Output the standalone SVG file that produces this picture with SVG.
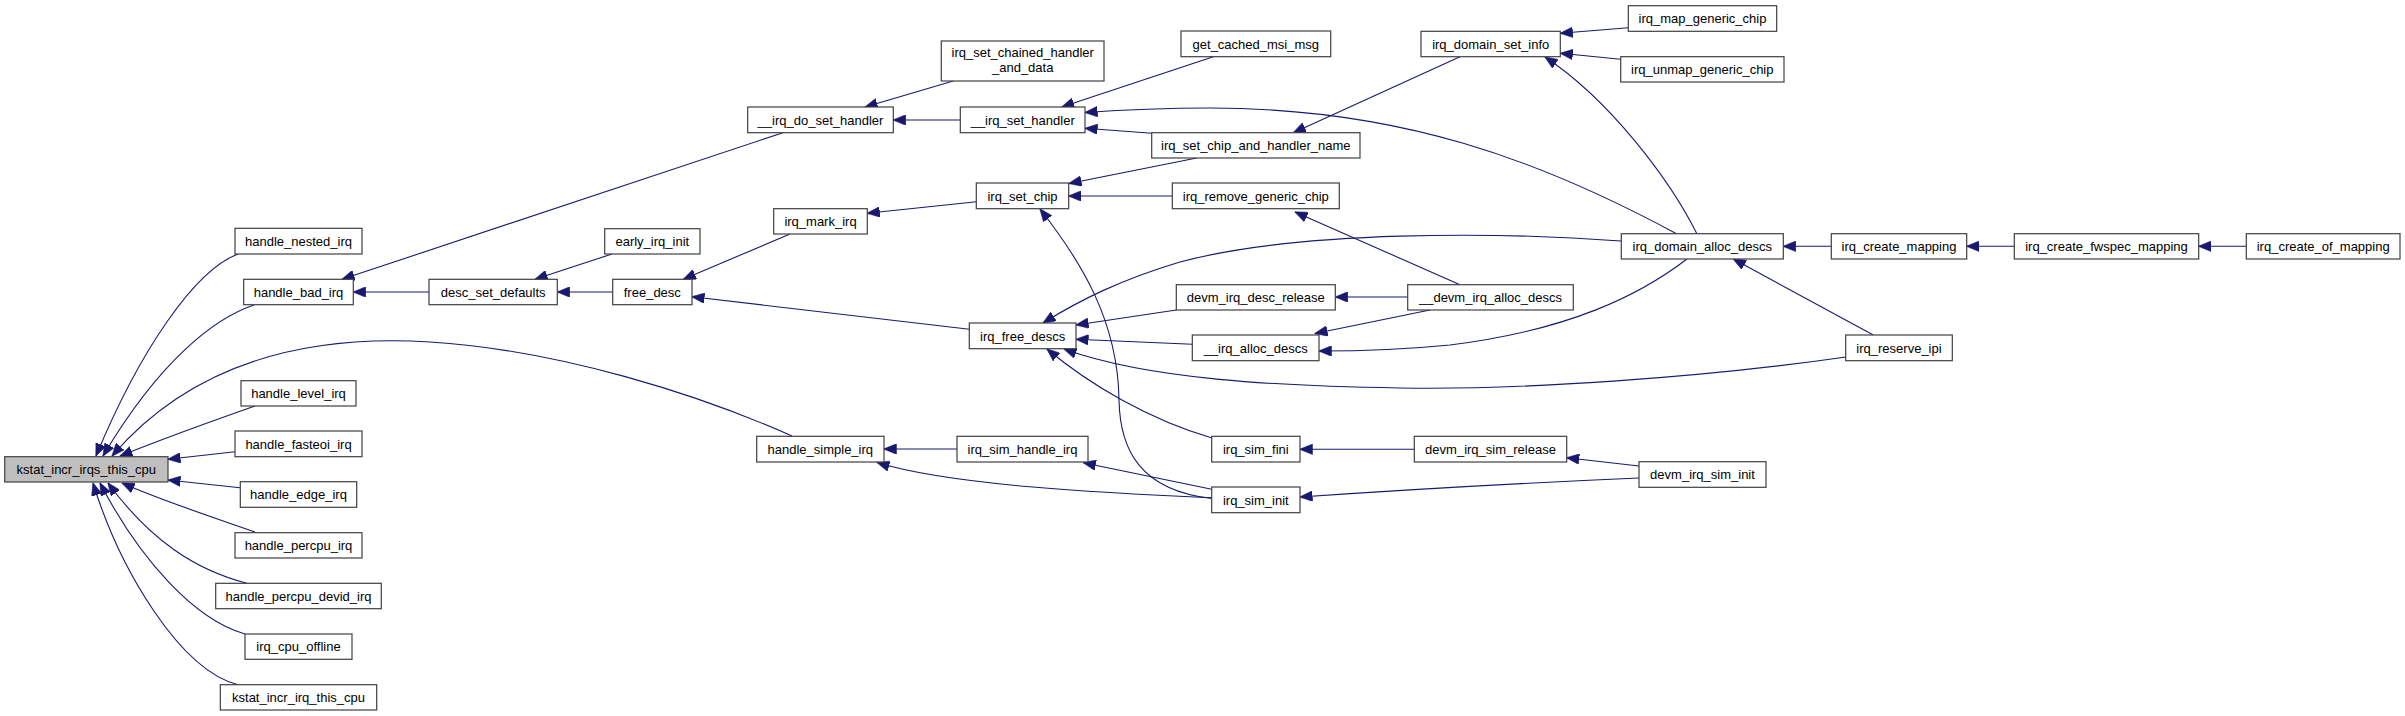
<svg xmlns="http://www.w3.org/2000/svg" width="2405" height="716" viewBox="0 0 2405 716">
<defs>
<style>
.node rect{fill:#ffffff;stroke:#404040;stroke-width:1.2}
.node.root rect{fill:#bfbfbf}
.node text{font-family:"Liberation Sans",Arial,Helvetica,sans-serif;font-size:13px;text-anchor:middle;fill:#000}
.edge path{fill:none;stroke:#191970;stroke-width:1.1;marker-end:url(#ah)}
</style>
<marker id="ah" markerUnits="userSpaceOnUse" viewBox="0 0 13 10.6" markerWidth="13" markerHeight="10.6" refX="12.5" refY="5.3" orient="auto">
<path d="M0,0 L13,5.3 L0,10.6 Z" fill="#191970" stroke="#191970" stroke-width="0.5"/>
</marker>
</defs>
<rect x="0" y="0" width="2405" height="716" fill="#ffffff"/>
<g id="edges" class="edge">
<path d="M238,254 C195,270 140,350 96,456"/>
<path d="M254,305 C215,318 160,360 103,456"/>
<path d="M792,436 C700,395 560,350 430,342 C300,334 190,365 112,456"/>
<path d="M255,406 C215,420 160,440 120,456"/>
<path d="M235,451.7 L168,459.3"/>
<path d="M240,487.7 L168,480"/>
<path d="M255,532 C215,518 160,500 122,483"/>
<path d="M247,583.3 C195,570 150,540 108,483"/>
<path d="M245,634 C195,620 140,560 100,483"/>
<path d="M238,684.7 C180,670 120,570 93,483"/>
<path d="M783,132.7 L342,279.3"/>
<path d="M429,292 L353.3,292"/>
<path d="M612,254 L535,279.3"/>
<path d="M612.7,292 L557.3,292"/>
<path d="M790,234 L683.3,279.3"/>
<path d="M969.3,329.3 L692,296.7"/>
<path d="M953.3,81 L865,107"/>
<path d="M960.3,120 L893.3,120"/>
<path d="M976.3,201.7 L867.3,213.3"/>
<path d="M1213.3,56.7 L1061.7,107"/>
<path d="M1677,234 C1540,160 1400,108 1210,108 C1160,108 1120,110 1085,112.5"/>
<path d="M1151.7,133.3 L1085,128.3"/>
<path d="M1196.7,158 L1069,183.5"/>
<path d="M1172.3,196 L1068.7,196"/>
<path d="M1211.7,498.5 C1140,490 1120,450 1119,400 C1118,320 1080,260 1040,209"/>
<path d="M1460,56.7 L1293.3,132.7"/>
<path d="M1628.3,27.7 L1560.3,33.3"/>
<path d="M1620.7,59.3 L1560.3,53.3"/>
<path d="M1697,234 C1670,180 1610,100 1545,57"/>
<path d="M1460,284.7 L1295,212"/>
<path d="M1621,241 C1500,232 1300,230 1180,262 C1120,280 1080,300 1043,323"/>
<path d="M1176.3,310 L1076,325"/>
<path d="M1192.3,344.3 L1076,339.3"/>
<path d="M1846,357 C1700,378 1520,390 1400,388 C1280,386 1150,380 1064,349"/>
<path d="M1212,438 C1150,420 1090,385 1047,349"/>
<path d="M1407.7,297 L1335.3,297"/>
<path d="M1430,310 L1315,333.5"/>
<path d="M1687,259 C1640,295 1570,330 1450,345 C1400,350 1360,351 1319,351"/>
<path d="M1831.3,246.3 L1783.3,246.3"/>
<path d="M1873.3,335 L1733.3,259"/>
<path d="M2014.3,246.3 L1966.7,246.3"/>
<path d="M2246.3,246.3 L2198.7,246.3"/>
<path d="M1414.3,449.3 L1300,449.3"/>
<path d="M1639,466 L1566.7,457.7"/>
<path d="M1639,478 C1500,484 1400,490 1300,497"/>
<path d="M957,449 L884,449"/>
<path d="M1212,497.7 C1100,493 950,485 877,462.5"/>
<path d="M1211.7,489.3 L1083.3,462.7"/>
</g>
<g id="kstat_incr_irqs_this_cpu" class="node root"><rect x="4.7" y="456.7" width="163.3" height="25.3"/><text x="86.3" y="474">kstat_incr_irqs_this_cpu</text></g>
<g id="handle_nested_irq" class="node"><rect x="235" y="228.3" width="127" height="25.7"/><text x="298.5" y="245.8">handle_nested_irq</text></g>
<g id="handle_bad_irq" class="node"><rect x="243.7" y="279.3" width="109.6" height="25.4"/><text x="298.5" y="296.6">handle_bad_irq</text></g>
<g id="handle_simple_irq" class="node"><rect x="756.7" y="436.3" width="127.3" height="25.7"/><text x="820.3" y="453.8">handle_simple_irq</text></g>
<g id="handle_level_irq" class="node"><rect x="241" y="380.7" width="115" height="25.3"/><text x="298.5" y="398">handle_level_irq</text></g>
<g id="handle_fasteoi_irq" class="node"><rect x="235" y="431" width="127" height="25.7"/><text x="298.5" y="448.5">handle_fasteoi_irq</text></g>
<g id="handle_edge_irq" class="node"><rect x="240.3" y="481.7" width="116.4" height="25.6"/><text x="298.5" y="499.1">handle_edge_irq</text></g>
<g id="handle_percpu_irq" class="node"><rect x="235" y="532.7" width="127" height="25.3"/><text x="298.5" y="550">handle_percpu_irq</text></g>
<g id="handle_percpu_devid_irq" class="node"><rect x="215.7" y="583.3" width="165.6" height="25.4"/><text x="298.5" y="600.6">handle_percpu_devid_irq</text></g>
<g id="irq_cpu_offline" class="node"><rect x="245" y="634" width="107" height="25.3"/><text x="298.5" y="651.3">irq_cpu_offline</text></g>
<g id="kstat_incr_irq_this_cpu" class="node"><rect x="220.3" y="684.7" width="156.4" height="25.3"/><text x="298.5" y="702">kstat_incr_irq_this_cpu</text></g>
<g id="__irq_do_set_handler" class="node"><rect x="747.7" y="107" width="145.6" height="25.7"/><text x="820.5" y="124.5">__irq_do_set_handler</text></g>
<g id="desc_set_defaults" class="node"><rect x="429" y="279.3" width="128.3" height="25.4"/><text x="493.2" y="296.6">desc_set_defaults</text></g>
<g id="early_irq_init" class="node"><rect x="604.7" y="228.7" width="95.3" height="25.3"/><text x="652.3" y="246">early_irq_init</text></g>
<g id="free_desc" class="node"><rect x="612.7" y="279.3" width="79.3" height="25.4"/><text x="652.3" y="296.6">free_desc</text></g>
<g id="irq_mark_irq" class="node"><rect x="773.7" y="208.7" width="93.6" height="25.3"/><text x="820.5" y="226">irq_mark_irq</text></g>
<g id="irq_set_chained_handler_and_data" class="node"><rect x="941.3" y="41" width="162.7" height="40"/><text x="1022.7" y="57">irq_set_chained_handler</text><text x="1022.7" y="72">_and_data</text></g>
<g id="__irq_set_handler" class="node"><rect x="960.3" y="107" width="124.7" height="25.7"/><text x="1022.7" y="124.5">__irq_set_handler</text></g>
<g id="irq_set_chip" class="node"><rect x="976.3" y="183" width="92.4" height="25.7"/><text x="1022.5" y="200.5">irq_set_chip</text></g>
<g id="irq_free_descs" class="node"><rect x="969.3" y="323" width="106.7" height="25.7"/><text x="1022.7" y="340.5">irq_free_descs</text></g>
<g id="irq_sim_handle_irq" class="node"><rect x="957" y="436.3" width="131" height="25.7"/><text x="1022.5" y="453.8">irq_sim_handle_irq</text></g>
<g id="get_cached_msi_msg" class="node"><rect x="1181" y="31" width="149.7" height="25.7"/><text x="1255.8" y="48.5">get_cached_msi_msg</text></g>
<g id="irq_set_chip_and_handler_name" class="node"><rect x="1151.7" y="132.7" width="208.3" height="25.3"/><text x="1255.8" y="150">irq_set_chip_and_handler_name</text></g>
<g id="irq_remove_generic_chip" class="node"><rect x="1172.3" y="183" width="167" height="25.7"/><text x="1255.8" y="200.5">irq_remove_generic_chip</text></g>
<g id="devm_irq_desc_release" class="node"><rect x="1176.3" y="284.7" width="159" height="25.3"/><text x="1255.8" y="302">devm_irq_desc_release</text></g>
<g id="__irq_alloc_descs" class="node"><rect x="1192.3" y="335" width="126.7" height="25.7"/><text x="1255.7" y="352.5">__irq_alloc_descs</text></g>
<g id="irq_sim_fini" class="node"><rect x="1211.7" y="436.3" width="88.3" height="25.7"/><text x="1255.8" y="453.8">irq_sim_fini</text></g>
<g id="irq_sim_init" class="node"><rect x="1211.7" y="487" width="88.3" height="25.7"/><text x="1255.8" y="504.5">irq_sim_init</text></g>
<g id="irq_domain_set_info" class="node"><rect x="1421" y="31.3" width="139.3" height="25.4"/><text x="1490.7" y="48.6">irq_domain_set_info</text></g>
<g id="__devm_irq_alloc_descs" class="node"><rect x="1407.7" y="284.7" width="165.6" height="25.3"/><text x="1490.5" y="302">__devm_irq_alloc_descs</text></g>
<g id="devm_irq_sim_release" class="node"><rect x="1414.3" y="436.3" width="152.4" height="25.7"/><text x="1490.5" y="453.8">devm_irq_sim_release</text></g>
<g id="irq_map_generic_chip" class="node"><rect x="1628.3" y="5.7" width="148.4" height="25.6"/><text x="1702.5" y="23.1">irq_map_generic_chip</text></g>
<g id="irq_unmap_generic_chip" class="node"><rect x="1620.7" y="56.7" width="163.3" height="25.3"/><text x="1702.3" y="74">irq_unmap_generic_chip</text></g>
<g id="irq_domain_alloc_descs" class="node"><rect x="1621.3" y="233.7" width="162" height="25.3"/><text x="1702.3" y="251">irq_domain_alloc_descs</text></g>
<g id="irq_create_mapping" class="node"><rect x="1831.3" y="233.7" width="135.4" height="25.3"/><text x="1899" y="251">irq_create_mapping</text></g>
<g id="irq_reserve_ipi" class="node"><rect x="1845.7" y="335" width="106.6" height="25.7"/><text x="1899" y="352.5">irq_reserve_ipi</text></g>
<g id="devm_irq_sim_init" class="node"><rect x="1639" y="461.7" width="127" height="25.6"/><text x="1702.5" y="479.1">devm_irq_sim_init</text></g>
<g id="irq_create_fwspec_mapping" class="node"><rect x="2014.3" y="233.7" width="184.4" height="25.3"/><text x="2106.5" y="251">irq_create_fwspec_mapping</text></g>
<g id="irq_create_of_mapping" class="node"><rect x="2246.3" y="233.7" width="153.7" height="25.3"/><text x="2323.2" y="251">irq_create_of_mapping</text></g>
</svg>
